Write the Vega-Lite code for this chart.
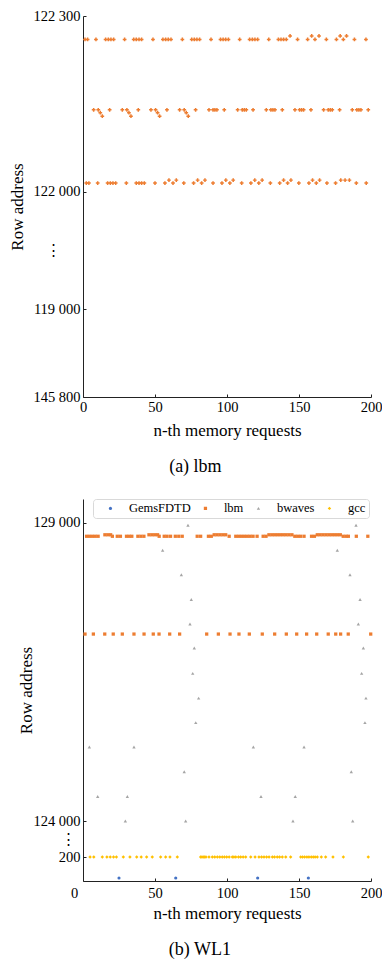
{
  "$schema": "https://vega.github.io/schema/vega-lite/v6.json",
  "padding": {"left": 8, "top": 8, "right": 5, "bottom": 5},
  "spacing": 22,
  "align": "none",
  "resolve": {"legend": {"color": "independent", "shape": "independent", "size": "independent"}},
  "config": {
    "font": "Liberation Serif",
    "view": {"stroke": null},
    "axis": {
      "grid": false,
      "domainColor": "#222222",
      "tickColor": "#222222",
      "labelColor": "#000000",
      "titleColor": "#000000",
      "labelFont": "Liberation Serif",
      "titleFont": "Liberation Serif",
      "labelFontSize": 14.5,
      "titleFontSize": 17,
      "titleFontWeight": "normal",
      "tickSize": -3
    },
    "title": {"font": "Liberation Serif", "fontSize": 18, "fontWeight": "normal", "color": "#000000"}
  },
  "vconcat": [
    {
      "width": 288,
      "height": 381,
      "title": {"text": "(a)  lbm", "orient": "bottom", "frame": "bounds", "anchor": "middle", "offset": 19},
      "data": {"values": [
        {"n":1.4,"row":122260},{"n":3.2,"row":122260},{"n":9.0,"row":122260},{"n":15.7,"row":122260},{"n":17.6,"row":122260},{"n":19.4,"row":122260},{"n":21.3,"row":122260},{"n":28.9,"row":122260},{"n":35.2,"row":122260},{"n":37.0,"row":122260},{"n":38.9,"row":122260},{"n":40.7,"row":122260},{"n":48.6,"row":122260},{"n":55.5,"row":122260},{"n":57.4,"row":122260},{"n":59.2,"row":122260},{"n":61.1,"row":122260},{"n":69.0,"row":122260},{"n":75.5,"row":122260},{"n":77.3,"row":122260},{"n":79.1,"row":122260},{"n":81.0,"row":122260},{"n":88.9,"row":122260},{"n":95.5,"row":122260},{"n":97.3,"row":122260},{"n":99.1,"row":122260},{"n":101.0,"row":122260},{"n":108.8,"row":122260},{"n":115.7,"row":122260},{"n":117.6,"row":122260},{"n":119.4,"row":122260},{"n":121.3,"row":122260},{"n":129.0,"row":122260},{"n":135.7,"row":122260},{"n":137.5,"row":122260},{"n":139.3,"row":122260},{"n":141.2,"row":122260},{"n":143.8,"row":122266},{"n":149.0,"row":122260},{"n":156.0,"row":122260},{"n":158.8,"row":122266},{"n":161.1,"row":122260},{"n":163.9,"row":122266},{"n":169.0,"row":122260},{"n":176.0,"row":122260},{"n":178.6,"row":122266},{"n":180.8,"row":122260},{"n":183.0,"row":122266},{"n":188.5,"row":122260},{"n":196.5,"row":122260},
        {"n":7.4,"row":122140},{"n":10.6,"row":122140},{"n":12.0,"row":122135},{"n":13.4,"row":122129},{"n":18.5,"row":122140},
        {"n":27.3,"row":122140},{"n":30.5,"row":122140},{"n":31.9,"row":122135},{"n":33.3,"row":122129},{"n":38.4,"row":122140},
        {"n":47.2,"row":122140},{"n":50.4,"row":122140},{"n":51.8,"row":122135},{"n":53.2,"row":122129},{"n":58.3,"row":122140},
        {"n":67.1,"row":122140},{"n":70.3,"row":122140},{"n":71.7,"row":122135},{"n":73.1,"row":122129},{"n":78.2,"row":122140},
        {"n":87.5,"row":122140},{"n":90.3,"row":122140},{"n":91.6,"row":122140},{"n":93.0,"row":122140},{"n":98.1,"row":122140},
        {"n":107.4,"row":122140},{"n":110.6,"row":122140},{"n":112.0,"row":122140},{"n":113.4,"row":122140},{"n":118.1,"row":122140},
        {"n":127.3,"row":122140},{"n":130.5,"row":122140},{"n":131.9,"row":122140},{"n":133.3,"row":122140},{"n":138.4,"row":122140},
        {"n":147.2,"row":122140},{"n":150.4,"row":122140},{"n":151.8,"row":122140},{"n":153.2,"row":122140},{"n":158.3,"row":122140},
        {"n":167.1,"row":122140},{"n":170.3,"row":122140},{"n":171.7,"row":122140},{"n":173.1,"row":122140},{"n":178.2,"row":122140},
        {"n":187.0,"row":122140},{"n":190.2,"row":122140},{"n":191.6,"row":122140},{"n":193.0,"row":122140},{"n":198.1,"row":122140},
        {"n":2.3,"row":122015},{"n":4.1,"row":122015},{"n":10.2,"row":122015},{"n":17.1,"row":122015},{"n":19.0,"row":122015},{"n":20.8,"row":122015},{"n":22.7,"row":122015},{"n":30.1,"row":122015},{"n":37.0,"row":122015},{"n":38.9,"row":122015},{"n":40.7,"row":122015},{"n":42.6,"row":122015},{"n":50.0,"row":122015},
        {"n":56.9,"row":122015},{"n":59.7,"row":122020},{"n":62.5,"row":122015},{"n":64.8,"row":122020},{"n":70.0,"row":122015},
        {"n":76.8,"row":122015},{"n":79.6,"row":122020},{"n":82.4,"row":122015},{"n":84.7,"row":122020},{"n":90.3,"row":122015},
        {"n":96.5,"row":122015},{"n":99.2,"row":122020},{"n":102.0,"row":122015},{"n":104.3,"row":122020},{"n":110.2,"row":122015},
        {"n":116.6,"row":122015},{"n":119.3,"row":122020},{"n":122.1,"row":122015},{"n":124.4,"row":122020},{"n":130.1,"row":122015},
        {"n":136.6,"row":122015},{"n":139.3,"row":122020},{"n":142.1,"row":122015},{"n":144.4,"row":122020},{"n":149.9,"row":122015},
        {"n":156.9,"row":122015},{"n":159.4,"row":122020},{"n":162.0,"row":122015},{"n":164.3,"row":122020},{"n":169.4,"row":122015},
        {"n":175.4,"row":122015},{"n":179.0,"row":122020},{"n":182.0,"row":122020},{"n":185.0,"row":122020},{"n":189.8,"row":122015},{"n":196.7,"row":122015}
      ]},
      "mark": {"type": "point", "shape": "cross", "filled": true, "size": 14, "color": "#ED7D31", "opacity": 1},
      "encoding": {
        "x": {
          "field": "n", "type": "quantitative",
          "scale": {"domain": [0, 200], "nice": false, "zero": false},
          "axis": {"values": [0, 50, 100, 150, 200], "title": "n-th memory requests", "labelFlush": false, "labelPadding": 6, "titlePadding": 9}
        },
        "y": {
          "field": "row", "type": "quantitative",
          "scale": {"domain": [121650, 122300], "nice": false, "zero": false},
          "axis": {
            "values": [121650, 121800, 121900, 122000, 122300],
            "labelExpr": "datum.value == 121650 ? '145 800' : datum.value == 121800 ? '119 000' : datum.value == 121900 ? '⋮' : datum.value == 122000 ? '122 000' : '122 300'",
            "labelPadding": {"condition": {"test": "datum.value == 121900", "value": 26}, "value": 6},
            "tickColor": {"condition": {"test": "datum.value == 121900", "value": "transparent"}, "value": "#222222"},
            "title": "Row address",
            "titlePadding": 6
          }
        }
      }
    },
    {
      "width": 288,
      "height": 382,
      "title": {"text": "(b)  WL1", "orient": "bottom", "frame": "bounds", "anchor": "middle", "offset": 19},
      "data": {"values": [
        {"n":25.0,"row":25,"workload":"GemsFDTD"},{"n":64.4,"row":25,"workload":"GemsFDTD"},{"n":121.3,"row":25,"workload":"GemsFDTD"},{"n":156.5,"row":25,"workload":"GemsFDTD"},
        {"n":2.5,"row":128775,"workload":"lbm"},{"n":4.5,"row":128775,"workload":"lbm"},{"n":6.5,"row":128775,"workload":"lbm"},{"n":8.5,"row":128775,"workload":"lbm"},{"n":10.5,"row":128775,"workload":"lbm"},{"n":15.2,"row":128800,"workload":"lbm"},{"n":17.2,"row":128800,"workload":"lbm"},{"n":19.2,"row":128800,"workload":"lbm"},{"n":20.4,"row":128775,"workload":"lbm"},{"n":23.8,"row":128775,"workload":"lbm"},{"n":26.0,"row":128775,"workload":"lbm"},{"n":30.2,"row":128775,"workload":"lbm"},{"n":32.1,"row":128775,"workload":"lbm"},{"n":33.9,"row":128775,"workload":"lbm"},{"n":38.1,"row":128775,"workload":"lbm"},{"n":40.2,"row":128775,"workload":"lbm"},{"n":42.3,"row":128775,"workload":"lbm"},{"n":45.8,"row":128800,"workload":"lbm"},{"n":47.8,"row":128800,"workload":"lbm"},{"n":49.8,"row":128800,"workload":"lbm"},{"n":51.8,"row":128800,"workload":"lbm"},{"n":52.9,"row":128775,"workload":"lbm"},{"n":56.4,"row":128775,"workload":"lbm"},{"n":58.4,"row":128775,"workload":"lbm"},{"n":60.8,"row":128775,"workload":"lbm"},{"n":64.1,"row":128775,"workload":"lbm"},{"n":66.5,"row":128775,"workload":"lbm"},{"n":68.9,"row":128775,"workload":"lbm"},{"n":79.3,"row":128775,"workload":"lbm"},{"n":81.7,"row":128775,"workload":"lbm"},{"n":87.1,"row":128775,"workload":"lbm"},{"n":89.1,"row":128775,"workload":"lbm"},{"n":91.1,"row":128800,"workload":"lbm"},{"n":93.1,"row":128800,"workload":"lbm"},{"n":95.1,"row":128800,"workload":"lbm"},{"n":97.1,"row":128800,"workload":"lbm"},{"n":99.1,"row":128800,"workload":"lbm"},{"n":101.5,"row":128775,"workload":"lbm"},{"n":106.1,"row":128775,"workload":"lbm"},{"n":108.1,"row":128775,"workload":"lbm"},{"n":110.1,"row":128775,"workload":"lbm"},{"n":112.1,"row":128775,"workload":"lbm"},{"n":114.1,"row":128775,"workload":"lbm"},{"n":116.1,"row":128775,"workload":"lbm"},{"n":118.1,"row":128775,"workload":"lbm"},{"n":120.9,"row":128775,"workload":"lbm"},{"n":125.1,"row":128775,"workload":"lbm"},{"n":127.1,"row":128775,"workload":"lbm"},{"n":129.1,"row":128800,"workload":"lbm"},{"n":131.1,"row":128800,"workload":"lbm"},{"n":133.1,"row":128800,"workload":"lbm"},{"n":135.1,"row":128800,"workload":"lbm"},{"n":137.1,"row":128800,"workload":"lbm"},{"n":139.1,"row":128800,"workload":"lbm"},{"n":141.1,"row":128800,"workload":"lbm"},{"n":143.1,"row":128800,"workload":"lbm"},{"n":145.1,"row":128800,"workload":"lbm"},{"n":147.1,"row":128775,"workload":"lbm"},{"n":149.1,"row":128775,"workload":"lbm"},{"n":151.1,"row":128775,"workload":"lbm"},{"n":153.5,"row":128775,"workload":"lbm"},{"n":158.7,"row":128775,"workload":"lbm"},{"n":160.7,"row":128775,"workload":"lbm"},{"n":162.7,"row":128800,"workload":"lbm"},{"n":164.7,"row":128800,"workload":"lbm"},{"n":166.7,"row":128800,"workload":"lbm"},{"n":168.7,"row":128800,"workload":"lbm"},{"n":170.7,"row":128800,"workload":"lbm"},{"n":172.7,"row":128800,"workload":"lbm"},{"n":174.7,"row":128800,"workload":"lbm"},{"n":176.7,"row":128800,"workload":"lbm"},{"n":178.7,"row":128800,"workload":"lbm"},{"n":180.7,"row":128775,"workload":"lbm"},{"n":182.7,"row":128775,"workload":"lbm"},{"n":184.3,"row":128775,"workload":"lbm"},{"n":189.8,"row":128775,"workload":"lbm"},{"n":197.8,"row":128775,"workload":"lbm"},
        {"n":1.4,"row":127135,"workload":"lbm"},{"n":7.2,"row":127135,"workload":"lbm"},{"n":15.1,"row":127135,"workload":"lbm"},{"n":21.0,"row":127135,"workload":"lbm"},{"n":27.3,"row":127135,"workload":"lbm"},{"n":35.4,"row":127135,"workload":"lbm"},{"n":42.4,"row":127135,"workload":"lbm"},{"n":48.8,"row":127135,"workload":"lbm"},{"n":52.8,"row":127135,"workload":"lbm"},{"n":60.2,"row":127135,"workload":"lbm"},{"n":67.1,"row":127135,"workload":"lbm"},{"n":85.9,"row":127135,"workload":"lbm"},{"n":94.0,"row":127135,"workload":"lbm"},{"n":102.1,"row":127135,"workload":"lbm"},{"n":108.3,"row":127135,"workload":"lbm"},{"n":115.5,"row":127135,"workload":"lbm"},{"n":124.5,"row":127135,"workload":"lbm"},{"n":133.1,"row":127135,"workload":"lbm"},{"n":141.2,"row":127135,"workload":"lbm"},{"n":148.4,"row":127135,"workload":"lbm"},{"n":155.3,"row":127135,"workload":"lbm"},{"n":162.3,"row":127135,"workload":"lbm"},{"n":170.3,"row":127135,"workload":"lbm"},{"n":175.5,"row":127135,"workload":"lbm"},{"n":178.9,"row":127135,"workload":"lbm"},{"n":184.2,"row":127135,"workload":"lbm"},{"n":199.8,"row":127135,"workload":"lbm"},
        {"n":72.9,"row":128960,"workload":"bwaves"},{"n":55.3,"row":128540,"workload":"bwaves"},{"n":68.3,"row":128130,"workload":"bwaves"},{"n":75.2,"row":127715,"workload":"bwaves"},{"n":74.3,"row":127305,"workload":"bwaves"},{"n":77.3,"row":126900,"workload":"bwaves"},{"n":76.2,"row":126475,"workload":"bwaves"},{"n":80.3,"row":126060,"workload":"bwaves"},{"n":78.3,"row":125650,"workload":"bwaves"},{"n":70.3,"row":124825,"workload":"bwaves"},{"n":71.3,"row":124000,"workload":"bwaves"},{"n":4.4,"row":125240,"workload":"bwaves"},{"n":10.2,"row":124410,"workload":"bwaves"},{"n":35.4,"row":125240,"workload":"bwaves"},{"n":30.8,"row":124410,"workload":"bwaves"},{"n":29.4,"row":124000,"workload":"bwaves"},{"n":118.3,"row":125240,"workload":"bwaves"},{"n":123.6,"row":124410,"workload":"bwaves"},{"n":153.5,"row":125240,"workload":"bwaves"},{"n":147.4,"row":124410,"workload":"bwaves"},{"n":145.8,"row":124000,"workload":"bwaves"},{"n":186.3,"row":124825,"workload":"bwaves"},{"n":187.3,"row":124000,"workload":"bwaves"},{"n":195.8,"row":125650,"workload":"bwaves"},{"n":189.6,"row":128960,"workload":"bwaves"},{"n":176.6,"row":128540,"workload":"bwaves"},{"n":185.4,"row":128130,"workload":"bwaves"},{"n":192.4,"row":127715,"workload":"bwaves"},{"n":191.2,"row":127305,"workload":"bwaves"},{"n":194.7,"row":126900,"workload":"bwaves"},{"n":193.5,"row":126475,"workload":"bwaves"},{"n":196.5,"row":126060,"workload":"bwaves"},
        {"n":4.9,"row":200,"workload":"gcc"},{"n":7.5,"row":200,"workload":"gcc"},{"n":13.4,"row":200,"workload":"gcc"},{"n":16.6,"row":200,"workload":"gcc"},{"n":18.9,"row":200,"workload":"gcc"},{"n":21.2,"row":200,"workload":"gcc"},{"n":23.2,"row":200,"workload":"gcc"},{"n":28.0,"row":200,"workload":"gcc"},{"n":32.6,"row":200,"workload":"gcc"},{"n":37.3,"row":200,"workload":"gcc"},{"n":40.4,"row":200,"workload":"gcc"},{"n":44.2,"row":200,"workload":"gcc"},{"n":48.1,"row":200,"workload":"gcc"},{"n":53.9,"row":200,"workload":"gcc"},{"n":57.4,"row":200,"workload":"gcc"},{"n":60.4,"row":200,"workload":"gcc"},{"n":65.5,"row":200,"workload":"gcc"},
        {"n":81.7,"row":200,"workload":"gcc"},{"n":82.6,"row":200,"workload":"gcc"},{"n":83.5,"row":200,"workload":"gcc"},{"n":84.5,"row":200,"workload":"gcc"},{"n":85.4,"row":200,"workload":"gcc"},{"n":87.5,"row":200,"workload":"gcc"},{"n":89.8,"row":200,"workload":"gcc"},{"n":91.5,"row":200,"workload":"gcc"},{"n":93.3,"row":200,"workload":"gcc"},{"n":95.0,"row":200,"workload":"gcc"},{"n":96.7,"row":200,"workload":"gcc"},{"n":98.2,"row":200,"workload":"gcc"},{"n":99.8,"row":200,"workload":"gcc"},{"n":101.5,"row":200,"workload":"gcc"},{"n":103.7,"row":200,"workload":"gcc"},{"n":104.8,"row":200,"workload":"gcc"},{"n":106.1,"row":200,"workload":"gcc"},{"n":108.0,"row":200,"workload":"gcc"},{"n":109.5,"row":200,"workload":"gcc"},{"n":111.2,"row":200,"workload":"gcc"},{"n":113.0,"row":200,"workload":"gcc"},{"n":116.5,"row":200,"workload":"gcc"},{"n":119.5,"row":200,"workload":"gcc"},{"n":122.2,"row":200,"workload":"gcc"},{"n":124.0,"row":200,"workload":"gcc"},{"n":125.7,"row":200,"workload":"gcc"},{"n":127.5,"row":200,"workload":"gcc"},{"n":129.2,"row":200,"workload":"gcc"},{"n":131.5,"row":200,"workload":"gcc"},{"n":133.0,"row":200,"workload":"gcc"},{"n":134.9,"row":200,"workload":"gcc"},{"n":136.5,"row":200,"workload":"gcc"},{"n":138.4,"row":200,"workload":"gcc"},{"n":140.8,"row":200,"workload":"gcc"},{"n":144.2,"row":200,"workload":"gcc"},{"n":151.2,"row":200,"workload":"gcc"},{"n":152.5,"row":200,"workload":"gcc"},{"n":153.9,"row":200,"workload":"gcc"},{"n":155.5,"row":200,"workload":"gcc"},{"n":156.9,"row":200,"workload":"gcc"},{"n":158.5,"row":200,"workload":"gcc"},{"n":159.9,"row":200,"workload":"gcc"},{"n":161.2,"row":200,"workload":"gcc"},{"n":162.7,"row":200,"workload":"gcc"},{"n":165.5,"row":200,"workload":"gcc"},{"n":168.5,"row":200,"workload":"gcc"},{"n":173.6,"row":200,"workload":"gcc"},{"n":180.8,"row":200,"workload":"gcc"},{"n":198.1,"row":200,"workload":"gcc"}
      ]},
      "mark": {"type": "point", "filled": true, "opacity": 1},
      "encoding": {
        "x": {
          "field": "n", "type": "quantitative",
          "scale": {"domain": [0, 200], "nice": false, "zero": false},
          "axis": {
            "values": [0, 50, 100, 150, 200],
            "title": "n-th memory requests",
            "labelFlush": false,
            "labelPadding": 8, "titlePadding": 6,
            "labelOffset": {"condition": {"test": "datum.value == 0", "value": -9}, "value": 0}
          }
        },
        "y": {
          "field": "row", "type": "quantitative",
          "scale": {"domain": [0, 200, 124000, 129400], "range": [382, 358, 322, 0], "nice": false, "zero": false},
          "axis": {
            "values": [200, 62100, 124000, 129000],
            "labelExpr": "datum.value == 200 ? '200' : datum.value == 62100 ? '⋮' : datum.value == 124000 ? '124 000' : '129 000'",
            "labelPadding": {"condition": {"test": "datum.value == 62100", "value": 11}, "value": 6},
            "tickColor": {"condition": {"test": "datum.value == 62100", "value": "transparent"}, "value": "#222222"},
            "title": "Row address",
            "titlePadding": -3
          }
        },
        "color": {
          "field": "workload", "type": "nominal",
          "scale": {"domain": ["GemsFDTD", "lbm", "bwaves", "gcc"], "range": ["#4472C4", "#ED7D31", "#A5A5A5", "#FFC000"]},
          "legend": {
            "title": null, "orient": "none", "legendX": 10, "legendY": 0, "direction": "horizontal",
            "padding": 3, "symbolOffset": 8.2, "labelOffset": 12.2, "columnPadding": 0,
            "labelFont": "Liberation Serif", "labelFontSize": 12.5, "labelColor": "#000000",
            "fillColor": "#ffffff", "strokeColor": "#d9d9d9", "cornerRadius": 3
          }
        },
        "shape": {
          "field": "workload", "type": "nominal",
          "scale": {"domain": ["GemsFDTD", "lbm", "bwaves", "gcc"], "range": ["circle", "square", "triangle-up", "diamond"]}
        },
        "size": {
          "field": "workload", "type": "nominal",
          "scale": {"domain": ["GemsFDTD", "lbm", "bwaves", "gcc"], "range": [10, 12, 14, 20]}
        }
      }
    }
  ]
}
